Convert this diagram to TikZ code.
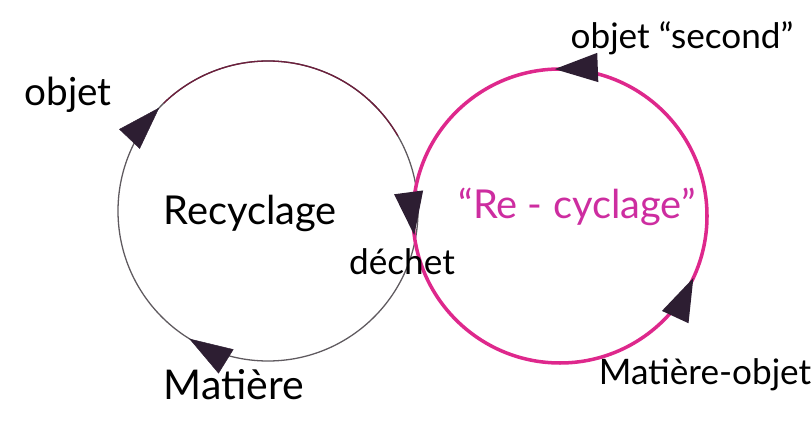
\documentclass[tikz,border=0pt]{standalone}
\usepackage{fontspec}
\setmainfont{Lato}
\usetikzlibrary{arrows.meta,decorations.markings}
\definecolor{cycmag}{RGB}{222,40,140}
\definecolor{txtmag}{RGB}{205,45,160}
\definecolor{tipdark}{RGB}{45,30,50}
\definecolor{ringgray}{RGB}{95,90,95}
\definecolor{ringred}{RGB}{110,30,60}

\begin{document}
\begin{tikzpicture}[x=0.03cm, y=0.03cm,
  hand/.style={font=\fontsize{#1}{36}\selectfont}, hand/.default=30,
  tip/.style={postaction={decorate, decoration={markings,
    mark=at position #1 with {\arrow[color=tipdark]{Triangle[length=1.3cm,width=0.85cm]}}}}}]
  \useasboundingbox (0,0) rectangle (812,422);
  \coordinate (lc) at (268,211);
  \coordinate (rc) at (560,206);
  % Recyclage
  \draw[ringgray, line width=1.1pt]
    ([shift={(90:150)}]lc) arc[start angle=90, end angle=-270, radius=150];
  \draw[ringred, line width=1.1pt]
    ([shift={(134:150)}]lc) arc[start angle=134, end angle=30, radius=150];
  \path[tip=0.588, tip=0.871]
    ([shift={(90:150)}]lc) arc[start angle=90, end angle=-270, radius=150];
  % Re-cyclage
  \draw[cycmag, line width=3pt, tip=0.181, tip=0.506, tip=0.771]
    ([shift={(-90:147)}]rc) arc[start angle=-90, end angle=270, radius=147];
  \node[hand=33] (obj) at (68,327) {objet};
  \node[hand=34] (recy) at (250,209) {Recyclage};
  \node[hand=34, txtmag] (recyc) at (577,215) {``Re - cyclage''};
  \node[hand] (dechet) at (402,160) {déchet};
  \node[hand] (objsec) at (682,384) {objet ``second''};
  \node[hand=35] (mat) at (234,37) {Matière};
  \node[hand] (matobj) at (705,47) {Matière-objet};
\end{tikzpicture}
\end{document}
